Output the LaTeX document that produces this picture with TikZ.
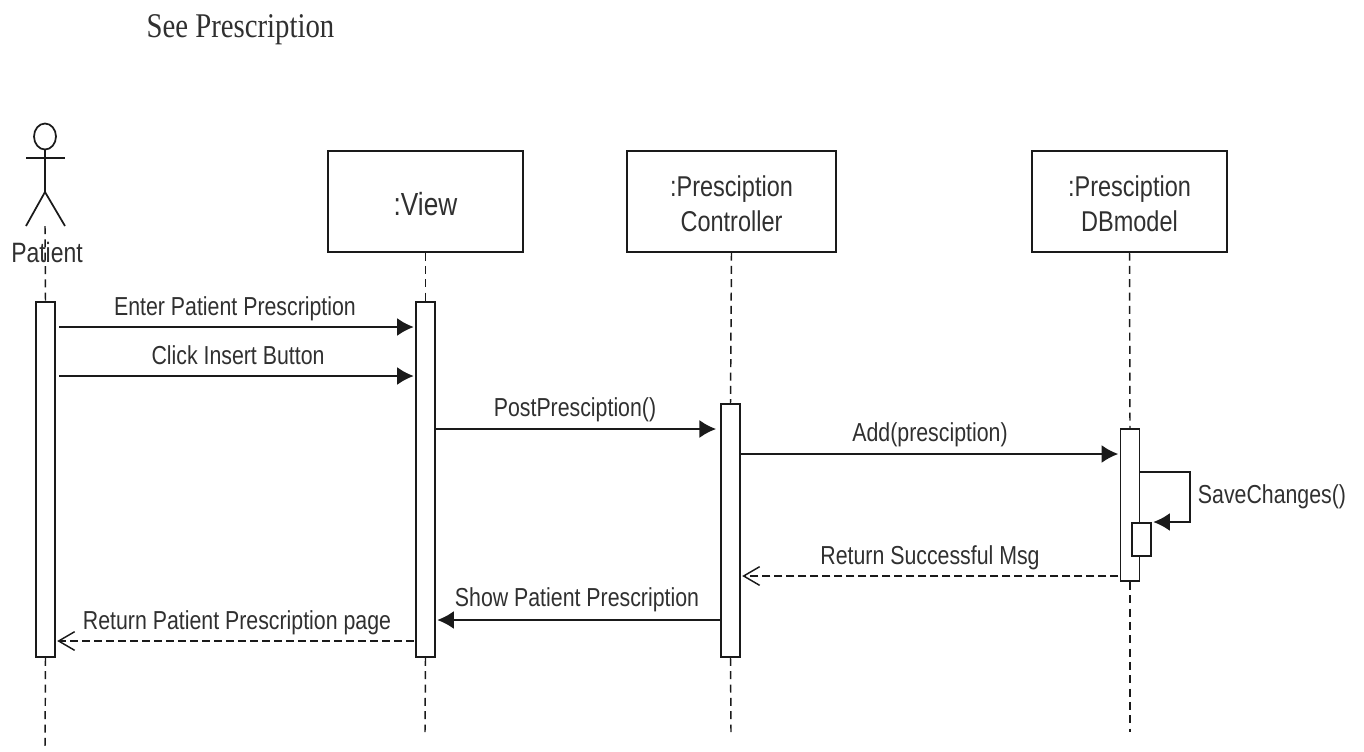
\documentclass[tikz,border=0pt]{standalone}
\usepackage{fontspec}
\setmainfont[FakeStretch=0.82]{Liberation Sans}
\newfontfamily\titlefont[FakeStretch=0.83]{Liberation Serif}
\usepackage{xcolor}
\usepackage{tikz}
\usetikzlibrary{calc}
\usetikzlibrary{positioning}
\usetikzlibrary{arrows.meta}
\usetikzlibrary{shapes.geometric}

\definecolor{labelgray}{HTML}{303030}
\definecolor{linegray}{HTML}{1A1A1A}

\newcommand{\topgap}{\rule{0pt}{20pt}}

\tikzset{
    lifebox/.style={draw=linegray, line width=1.5pt, minimum width=195*0.75pt,
        minimum height=101*0.75pt, inner sep=0pt, align=center, text=labelgray,
        font=\fontsize{21.5}{26.5}\selectfont},
    activebar/.style={draw=linegray, line width=1.3pt, fill=white, minimum width=19*0.75pt,
        inner sep=0pt},
    msglabel/.style={text=labelgray, inner sep=0pt, font=\fontsize{19.5}{22}\selectfont},
    lifeline/.style={draw=linegray, line width=1.1pt, dash pattern=on 6pt off 4pt},
    callmsg/.style={draw=linegray, line width=1.6pt, -{Latex[length=12.5pt, width=13.5pt]},
        shorten <=2.5pt, shorten >=1pt},
    returnmsg/.style={draw=linegray, line width=1.1pt, dash pattern=on 6pt off 3pt,
        -{Straight Barb[length=12pt, width=14pt]}, shorten <=1pt, shorten >=1pt}
}

\begin{document}
\begin{tikzpicture}[x=0.75pt, y=-0.75pt]

                \useasboundingbox (0, 0) rectangle (1364, 751);

                \node (Title) at (240.5, 30) [inner sep=0pt, text=labelgray,
                    font=\titlefont\fontsize{26}{28}\selectfont] {See Prescription};

                % Boxes along the top
                \node (ViewBox) at (425.5, 201) [lifebox, font=\fontsize{24}{26}\selectfont]
                    {\rule{0pt}{22pt}:View};
                \node (CtrlBox) at (731.5, 201) [lifebox, minimum width=209*0.75pt]
                    {\topgap:Presciption\\Controller};
                \node (ModelBox) at (1129.5, 201) [lifebox] {\topgap:Presciption\\DBmodel};

                % Free ends of the lifelines
                \coordinate (PatientEnd) at (45, 748);
                \coordinate (PatientHip) at (45, 192);
                \coordinate (ViewEnd) at (425, 732);
                \coordinate (CtrlEnd) at (731, 732);
                \coordinate (ModelEnd) at (1130, 732);

                % Rows of the messages
                \coordinate (RowA) at (0, 327);
                \coordinate (RowB) at (0, 376);
                \coordinate (RowC) at (0, 429);
                \coordinate (RowD) at (0, 454);
                \coordinate (RowE) at (0, 576);
                \coordinate (RowF) at (0, 620);
                \coordinate (RowG) at (0, 641);

                % Actor
                \node (PatientHead) at (45, 136.5) [ellipse, draw=linegray, line width=1.3pt,
                    minimum width=22*0.75pt, minimum height=26*0.75pt, inner sep=0pt] {};
                \coordinate (ArmL) at (26, 158);
                \coordinate (ArmR) at (65, 158);
                \coordinate (LegL) at (26, 226);
                \coordinate (LegR) at (65, 226);
                \begin{scope}[draw=linegray, line width=1.3pt]
                    \draw (PatientHead.south) -- (PatientHip);
                    \draw (ArmL) -- (ArmR);
                    \draw (LegL) -- (PatientHip) -- (LegR);
                \end{scope}
                \coordinate (PatientNeck) at (45, 226);

                % Bars on the lifelines
                \node (PatientBar) at (45.5, 479.5) [activebar, minimum height=355*0.75pt] {};
                \node (ViewBar) at (425.5, 479.5) [activebar, minimum height=355*0.75pt] {};
                \node (CtrlBar) at (730.5, 530.5) [activebar, minimum height=253*0.75pt] {};
                \node (ModelBar) at (1130, 505) [activebar, minimum height=152*0.75pt] {};
                \node (SelfBar) at (1141.5, 539.5) [activebar, minimum height=33*0.75pt] {};

                \begin{scope}[lifeline]
                    \draw (PatientNeck) -- (PatientBar.north);
                    \draw (PatientBar.south) -- (PatientEnd);
                    \draw (ViewBox.south) -- (ViewBar.north);
                    \draw (ViewBar.south) -- (ViewEnd);
                    \draw (CtrlBox.south) -- (CtrlBar.north);
                    \draw (CtrlBar.south) -- (CtrlEnd);
                    \draw (ModelBox.south) -- (ModelBar.north);
                    \draw (ModelBar.south) -- (ModelEnd);
                \end{scope}

                \node (PatientName) at (47, 252) [msglabel, font=\fontsize{21}{22}\selectfont] {Patient};

                % Messages
                \draw [callmsg] (PatientBar.east |- RowA) -- (ViewBar.west |- RowA);
                \draw [callmsg] (PatientBar.east |- RowB) -- (ViewBar.west |- RowB);
                \draw [callmsg] ([xshift=-3pt]ViewBar.east |- RowC) -- ([xshift=-2pt]CtrlBar.west |- RowC);
                \draw [callmsg] ([xshift=-3pt]CtrlBar.east |- RowD) -- (ModelBar.west |- RowD);
                \draw [returnmsg] (ModelBar.west |- RowE) -- (CtrlBar.east |- RowE);
                \draw [callmsg, shorten <=0pt] (CtrlBar.west |- RowF) -- (ViewBar.east |- RowF);
                \draw [returnmsg] (ViewBar.west |- RowG) -- (PatientBar.east |- RowG);

                % Call into itself
                \coordinate (SelfOut) at (1190, 472);
                \coordinate (SelfBack) at (1190, 522);
                \draw [callmsg, shorten <=0pt] (ModelBar.east |- SelfOut) -- (SelfOut) -- (SelfBack)
                    -- (SelfBar.east |- SelfBack);

                % Labels of the messages
                \node (LabelA) at (235, 309) [msglabel] {Enter Patient Prescription};
                \node (LabelB) at (238, 355) [msglabel] {Click Insert Button};
                \node (LabelC) at (575, 410) [msglabel] {PostPresciption()};
                \node (LabelD) at (930, 435) [msglabel] {Add(presciption)};
                \node (LabelE) at (1272, 497) [msglabel] {SaveChanges()};
                \node (LabelF) at (930, 558) [msglabel] {Return Successful Msg};
                \node (LabelG) at (577, 600) [msglabel] {Show Patient Prescription};
                \node (LabelH) at (237, 623) [msglabel] {Return Patient Prescription page};

                \end{tikzpicture}
\end{document}
